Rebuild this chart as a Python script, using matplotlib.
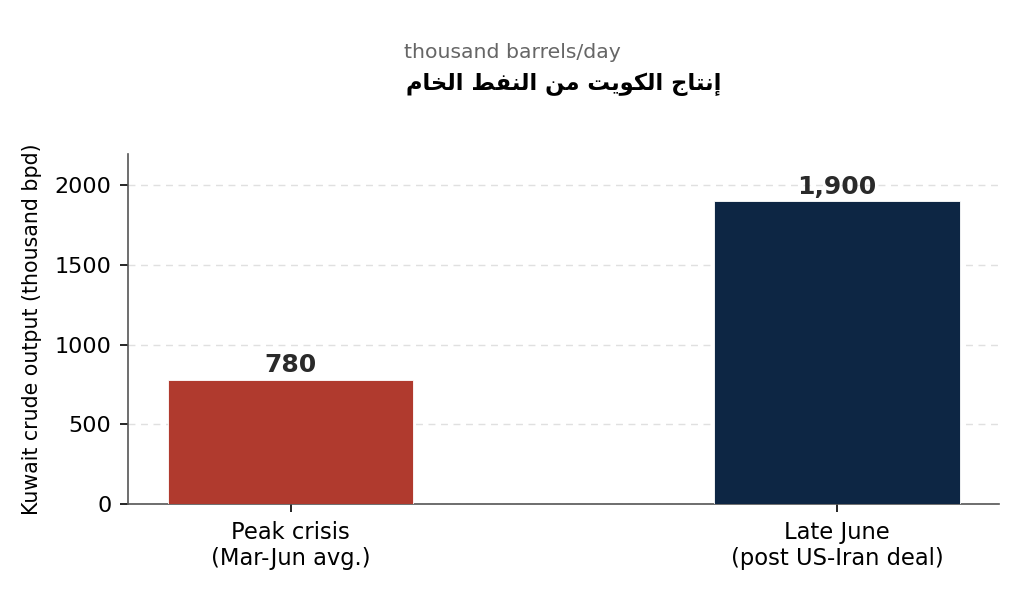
import matplotlib
matplotlib.use("Agg")
import matplotlib.pyplot as plt

# Chart data
categories = ["Peak crisis\n(Mar-Jun avg.)", "Late June\n(post US-Iran deal)"]
output_kbpd = [780, 1900]
value_labels = ["780", "1,900"]
bar_colors = ["#b03a2e", "#0d2644"]
title_ar = "إنتاج الكويت من النفط الخام"
subtitle = "thousand barrels/day"
y_label = "Kuwait crude output (thousand bpd)"

# Arabic presentation forms: isolated, final, initial, medial
FORMS = {
    "ا": (0xFE8D, 0xFE8E, None, None),
    "إ": (0xFE87, 0xFE88, None, None),
    "و": (0xFEED, 0xFEEE, None, None),
    "ت": (0xFE95, 0xFE96, 0xFE97, 0xFE98),
    "ج": (0xFE9D, 0xFE9E, 0xFE9F, 0xFEA0),
    "خ": (0xFEA5, 0xFEA6, 0xFEA7, 0xFEA8),
    "ط": (0xFEC1, 0xFEC2, 0xFEC3, 0xFEC4),
    "ف": (0xFED1, 0xFED2, 0xFED3, 0xFED4),
    "ك": (0xFED9, 0xFEDA, 0xFEDB, 0xFEDC),
    "ل": (0xFEDD, 0xFEDE, 0xFEDF, 0xFEE0),
    "م": (0xFEE1, 0xFEE2, 0xFEE3, 0xFEE4),
    "ن": (0xFEE5, 0xFEE6, 0xFEE7, 0xFEE8),
    "ي": (0xFEF1, 0xFEF2, 0xFEF3, 0xFEF4),
}


def shape_arabic(text):
    """Join Arabic letters and reverse to visual order (no raqm in mpl)."""
    out = []
    for i, ch in enumerate(text):
        if ch not in FORMS:
            out.append(ch)
            continue
        prev = text[i - 1] if i > 0 else ""
        nxt = text[i + 1] if i + 1 < len(text) else ""
        joins_prev = prev in FORMS and FORMS[prev][2] is not None
        joins_next = nxt in FORMS and FORMS[ch][2] is not None
        iso, fin, ini, med = FORMS[ch]
        if joins_prev and joins_next:
            code = med
        elif joins_prev:
            code = fin
        elif joins_next:
            code = ini
        else:
            code = iso
        out.append(chr(code))
    return "".join(reversed(out))


fig, ax = plt.subplots(figsize=(10.24, 5.95), dpi=100)
fig.subplots_adjust(left=0.125, right=0.976, bottom=0.153, top=0.742)

x = range(len(categories))
bars = ax.bar(x, output_kbpd, width=0.45, color=bar_colors,
              edgecolor="white", linewidth=0.6, zorder=3)

for bar, label in zip(bars, value_labels):
    ax.text(bar.get_x() + bar.get_width() / 2, bar.get_height() + 15, label,
            ha="center", va="bottom", fontsize=18, fontweight="bold",
            color="#2a2a2a", zorder=4)

ax.set_xticks(list(x))
ax.set_xticklabels(categories, fontsize=16.3, linespacing=1.2)
ax.set_ylim(0, 2200)
ax.set_yticks([0, 500, 1000, 1500, 2000])
ax.tick_params(axis="y", labelsize=16)
ax.tick_params(length=6, width=1.2, pad=6)
ax.set_ylabel(y_label, fontsize=14.8, labelpad=9)

ax.grid(axis="y", linestyle=(0, (5, 4)), color="#e0e0e0", linewidth=1, zorder=0)
ax.spines["top"].set_visible(False)
ax.spines["right"].set_visible(False)
for side in ["left", "bottom"]:
    ax.spines[side].set_color("#555555")
    ax.spines[side].set_linewidth(1.2)

ax.set_title(shape_arabic(title_ar), fontsize=16.3, fontweight="bold",
             family=["DejaVu Sans"], pad=46)
fig.text(0.5, 0.912, subtitle, ha="center", va="center",
         fontsize=14.7, color="#666666")

fig.savefig("out.png", dpi=100)
